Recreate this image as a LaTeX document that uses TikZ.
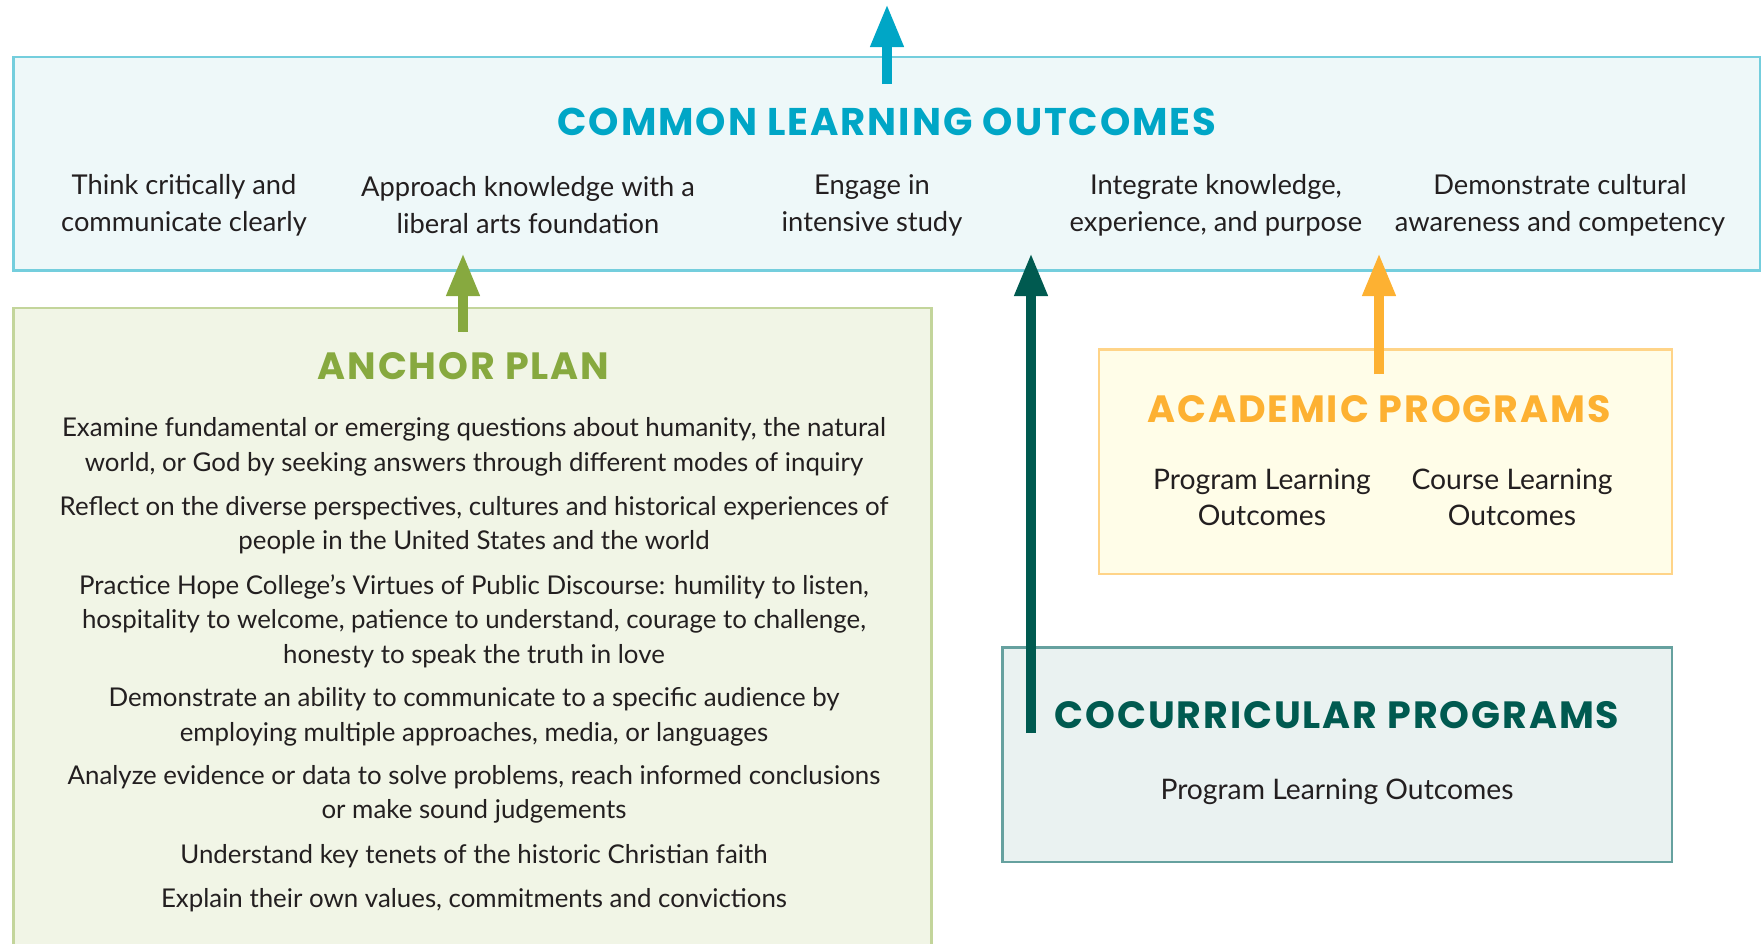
\documentclass[tikz,border=0pt]{standalone}
\usepackage{fontspec}
\setmainfont{Lato}
\newfontfamily\headfont[LetterSpace=5]{Poppins}
\usetikzlibrary{arrows.meta}
\definecolor{cloFill}{HTML}{EEF8F9}
\definecolor{cloDraw}{HTML}{74CEDD}
\definecolor{cloCol}{HTML}{00A6C6}
\definecolor{ancFill}{HTML}{F1F5E6}
\definecolor{ancDraw}{HTML}{C3D59B}
\definecolor{ancCol}{HTML}{87A93F}
\definecolor{acaFill}{HTML}{FFFDE8}
\definecolor{acaDraw}{HTML}{FFD488}
\definecolor{acaCol}{HTML}{FDB132}
\definecolor{cocFill}{HTML}{EAF2F1}
\definecolor{cocDraw}{HTML}{66A19F}
\definecolor{cocCol}{HTML}{005A50}
\definecolor{txt}{HTML}{231F20}
\tikzset{
  boxline/.style={line width=2.5pt},
  heading/.style={font=\headfont\bfseries\fontsize{38}{40}\selectfont, inner sep=0pt},
  bigheading/.style={font=\headfont\bfseries\fontsize{38.6}{40}\selectfont, inner sep=0pt},
  cloitem/.style={font=\fontsize{27.3}{37}\selectfont, text=txt, align=center, inner sep=0pt},
  ancitem/.style={font=\fontsize{25.85}{34.5}\selectfont, text=txt, align=center, inner sep=0pt},
  progitem/.style={font=\fontsize{28.3}{36}\selectfont, text=txt, align=center, inner sep=0pt},
  uparrow/.style={line width=10pt, -{Triangle[width=31pt,length=43pt]}},
}
\begin{document}
\begin{tikzpicture}[x=1pt,y=-1pt]
\useasboundingbox (0,0) rectangle (1762,943);
\clip (0,0) rectangle (1762,943);
% boxes
\draw[boxline, draw=cloDraw, fill=cloFill] (13.5,57) rectangle (1760,270.5);
\draw[boxline, draw=ancDraw, fill=ancFill] (13.5,308) rectangle (931.5,960);
\draw[boxline, draw=acaDraw, fill=acaFill] (1099,349.5) rectangle (1672,574);
\draw[boxline, draw=cocDraw, fill=cocFill] (1002.5,647.5) rectangle (1672,862);
% headings
\node[bigheading, text=cloCol] (clo) at (887,121.5) {COMMON LEARNING OUTCOMES};
\node[heading, text=ancCol] (anc) at (463.5,366.5) {ANCHOR PLAN};
\node[heading, text=acaCol] (aca) at (1379,409) {ACADEMIC PROGRAMS};
\node[heading, text=cocCol] (coc) at (1337,715) {COCURRICULAR PROGRAMS};
% CLO items
\node[cloitem] (c1) at (184,205.5) {Think critically and\\communicate clearly};
\node[cloitem] (c2) at (528,205.5) {Approach knowledge with a\\liberal arts foundation};
\node[cloitem] (c3) at (872,205.5) {Engage in\\intensive study};
\node[cloitem] (c4) at (1216,205.5) {Integrate knowledge,\\experience, and purpose};
\node[cloitem] (c5) at (1560,205.5) {Demonstrate cultural\\awareness and competency};
% Anchor items
\node[ancitem] (a1) at (474,447) {Examine fundamental or emerging questions about humanity, the natural\\world, or God by seeking answers through different modes of inquiry};
\node[ancitem] (a2) at (474,525) {Reflect on the diverse perspectives, cultures and historical experiences of\\people in the United States and the world};
\node[ancitem] (a3) at (474,621) {Practice Hope College’s Virtues of Public Discourse: humility to listen,\\hospitality to welcome, patience to understand, courage to challenge,\\honesty to speak the truth in love};
\node[ancitem] (a4) at (474,717) {Demonstrate an ability to communicate to a specific audience by\\employing multiple approaches, media, or languages};
\node[ancitem] (a5) at (474,794.5) {Analyze evidence or data to solve problems, reach informed conclusions\\or make sound judgements};
\node[ancitem] (a6) at (474,856) {Understand key tenets of the historic Christian faith};
\node[ancitem] (a7) at (474,900) {Explain their own values, commitments and convictions};
% program items
\node[progitem] (p1) at (1262,497) {Program Learning\\Outcomes};
\node[progitem] (p2) at (1512,497) {Course Learning\\Outcomes};
\node[progitem] (p3) at (1337,792) {Program Learning Outcomes};
% arrows
\coordinate (topS) at (887,84);
\coordinate (topE) at (887,4);
\coordinate (grS) at (463,332);
\coordinate (grE) at (463,253);
\coordinate (dkS) at (1031,733);
\coordinate (dkE) at (1031,253);
\coordinate (orS) at (1379,374);
\coordinate (orE) at (1379,253);
\draw[uparrow, draw=cloCol, fill=cloCol] (topS) -- (topE);
\draw[uparrow, draw=ancCol, fill=ancCol] (grS) -- (grE);
\draw[uparrow, draw=cocCol, fill=cocCol] (dkS) -- (dkE);
\draw[uparrow, draw=acaCol, fill=acaCol] (orS) -- (orE);
\end{tikzpicture}
\end{document}
